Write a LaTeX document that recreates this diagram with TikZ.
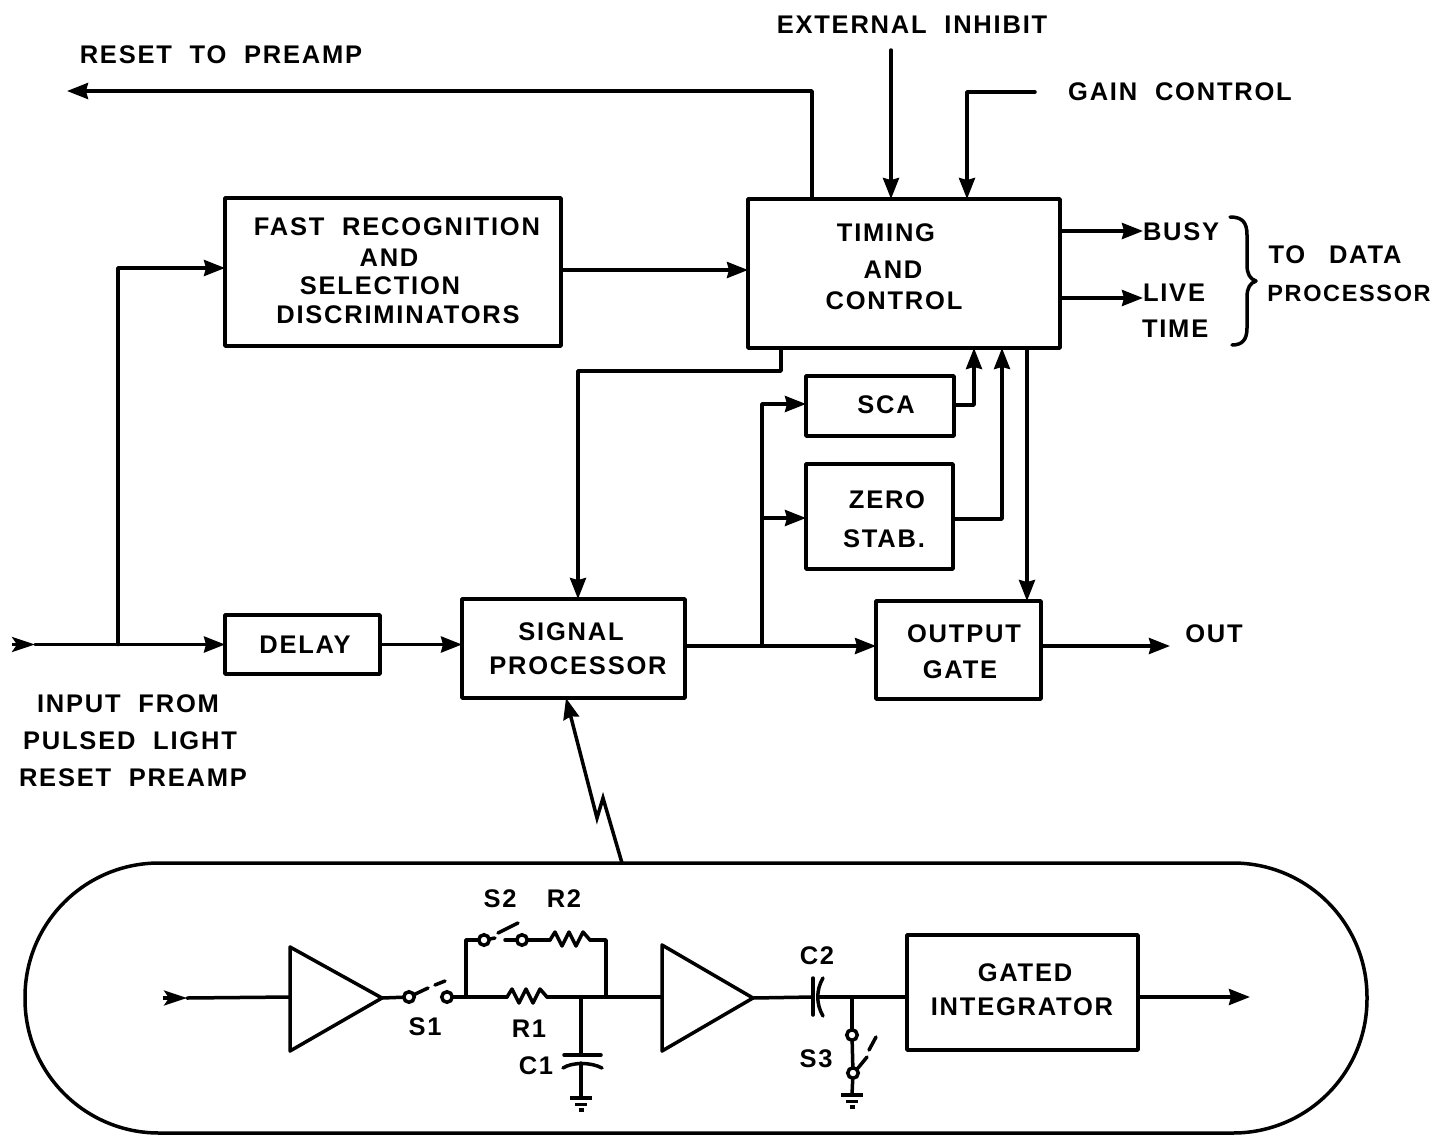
\documentclass[tikz,border=0pt]{standalone}
\usepackage{fontspec}
\setmainfont{Liberation Sans}[LetterSpace=7,WordSpace=2.0]
\usetikzlibrary{arrows.meta,calc}
\tikzset{
  wire/.style={line width=3.5pt,line join=round,line cap=round,draw=black},
  arrow/.style={wire,-{Stealth[length=21pt,width=16pt,inset=2pt]}},
  inarrow/.style={wire,line cap=butt,-{Stealth[length=23pt,width=15pt,inset=5pt]}},
  box/.style={draw=black,line width=3.5pt,line join=round,rectangle,inner sep=0pt,outer sep=0pt},
  lbl/.style={inner sep=0pt,outer sep=0pt,anchor=center,font=\fontsize{25.5}{30}\selectfont\bfseries},
  lbll/.style={lbl,anchor=west},
  term/.style={circle,draw=black,fill=white,line width=3.5pt,minimum size=10.5pt,inner sep=0pt,outer sep=0pt},
  resistor/.pic={\draw[wire] (0,0) -- ++(5,-8) -- ++(7,14) -- ++(7,-14) -- ++(7,14) -- ++(7,-14) -- ++(7,8);},
  groundsym/.pic={\draw[line width=3.5pt] (-11,0) -- (11,0);\draw[line width=3.5pt] (-6,6.5) -- (6,6.5);\draw[line width=3.5pt] (-2.5,12) -- (2.5,12);}
}
\begin{document}
\begin{tikzpicture}[x=1pt,y=-1pt]
\useasboundingbox (0,0) rectangle (1436,1136);
% boxes
\node[box,minimum width=336pt,minimum height=148pt] (fast) at (393,272) {};
\node[box,minimum width=312pt,minimum height=149pt] (timing) at (904,273.5) {};
\node[box,minimum width=148pt,minimum height=60pt] (sca) at (880,406) {};
\node[box,minimum width=147pt,minimum height=105pt] (zero) at (879.5,516.5) {};
\node[box,minimum width=155pt,minimum height=59pt] (delay) at (302.5,644.5) {};
\node[box,minimum width=223pt,minimum height=99pt] (signal) at (573.5,648.5) {};
\node[box,minimum width=165pt,minimum height=98pt] (output) at (958.5,650) {};
\node[box,minimum width=231pt,minimum height=115pt] (gated) at (1022.5,992.5) {};
\node[box,rounded corners=134pt,minimum width=1342pt,minimum height=270pt] (capsule) at (696,998) {};
% labels
\node[lbl] (tReset) at (221,55) {RESET TO PREAMP};
\node[lbl] (tExt) at (912,25) {EXTERNAL INHIBIT};
\node[lbl] (tGain) at (1180,92) {GAIN CONTROL};
\node[lbl] (tFastA) at (397,227) {FAST RECOGNITION};
\node[lbl] (tFastB) at (389,258) {AND};
\node[lbl] (tFastC) at (380,286) {SELECTION};
\node[lbl] (tFastD) at (398,315) {DISCRIMINATORS};
\node[lbl] (tTimA) at (886,233) {TIMING};
\node[lbl] (tTimB) at (893,270) {AND};
\node[lbl] (tTimC) at (894,301) {CONTROL};
\node[lbll] (busy) at (1143,232) {BUSY};
\node[lbll] (live) at (1143,293) {LIVE};
\node[lbll] (time) at (1142,329) {TIME};
\node[lbl] (tDataA) at (1335,255) {TO\hspace{6pt} DATA};
\node[lbl,font=\fontsize{23.5}{30}\selectfont\bfseries] (tDataB) at (1349,293) {PROCESSOR};
\node[lbl] (tSca) at (886,405) {SCA};
\node[lbl] (tZeroA) at (887,500) {ZERO};
\node[lbl] (tZeroB) at (884,539) {STAB.};
\node[lbl] (tDelay) at (305,645) {DELAY};
\node[lbl] (tSigA) at (571,632) {SIGNAL};
\node[lbl] (tSigB) at (578,666) {PROCESSOR};
\node[lbl] (tOutA) at (964,634) {OUTPUT};
\node[lbl] (tOutB) at (960,670) {GATE};
\node[lbl] (tOut) at (1214,634) {OUT};
\node[lbl] (tInA) at (128,704) {INPUT FROM};
\node[lbl] (tInB) at (130,741) {PULSED LIGHT};
\node[lbl] (tInC) at (133,778) {RESET PREAMP};
\node[lbl] (tS2) at (500,899) {S2};
\node[lbl] (tR2) at (564,899) {R2};
\node[lbl] (tS1) at (425,1027) {S1};
\node[lbl] (tR1) at (529,1029) {R1};
\node[lbl] (tC1) at (536,1066) {C1};
\node[lbl] (tC2) at (817,956) {C2};
\node[lbl] (tS3) at (816,1059) {S3};
\node[lbl] (tGatA) at (1025,973) {GATED};
\node[lbl] (tGatB) at (1022,1007) {INTEGRATOR};
% free ends
\coordinate (resetEnd) at (67,91);
\coordinate (extStart) at (891,50);
\coordinate (gainStart) at (1035,92);
\coordinate (inStart) at (12,644.5);
\coordinate (inTip) at (35,644.5);
\coordinate (jIn) at (118,644.5);
\coordinate (jSig) at (762,646);
\coordinate (outEnd) at (1170,646);
% upper connectors
\draw[arrow] (timing.north -| 812,0) |- (resetEnd);
\draw[arrow] (extStart) -- (timing.north -| extStart);
\draw[arrow] (gainStart) -| (timing.north -| 967,0);
\draw[arrow] (fast.east |- 0,270) -- (timing.west |- 0,270);
\draw[inarrow] (inStart) -- (inTip);
\draw[arrow] (inTip) -- (delay.west);
\draw[arrow] (jIn) |- (fast.west |- 0,268);
\draw[arrow] (delay.east) -- (signal.west |- delay.east);
\draw[arrow] (timing.east |- 0,231) -- (busy.west |- 0,231);
\draw[arrow] (timing.east |- 0,298) -- (live.west |- 0,298);
\draw[arrow] (timing.south -| 781,0) |- (578,371) -- (signal.north -| 578,0);
\draw[arrow] (signal.east |- jSig) -- (output.west |- jSig);
\draw[arrow] (jSig) |- (sca.west |- 0,404);
\draw[arrow] (jSig) |- (zero.west |- 0,518);
\draw[arrow] (sca.east |- 0,405) -| (timing.south -| 974,0);
\draw[arrow] (zero.east |- 0,519) -| (timing.south -| 1002,0);
\draw[arrow] (timing.south -| 1027,0) -- (output.north -| 1027,0);
\draw[arrow] (output.east |- jSig) -- (outEnd);
% lightning
\draw[arrow,line join=miter] (capsule.north -| 622,0) -- (603,798) -- (597,818) -- (signal.south -| 566,0);
% brace
\draw[wire] (1230,217) .. controls (1242,217) and (1247,222) .. (1247,235) -- (1247,265)
  .. controls (1247,274) and (1250,279) .. (1256,281) .. controls (1250,283) and (1247,288) .. (1247,297)
  -- (1247,328) .. controls (1247,340) and (1242,345) .. (1232,345);
% circuit: amplifiers
\coordinate (a1in) at (290,997);
\coordinate (a1out) at (382,998);
\coordinate (a2in) at (662,997);
\coordinate (a2out) at (753,998);
\draw[wire] (290,947) -- (a1out) -- (290,1051) -- cycle;
\draw[wire] (662,945) -- (a2out) -- (662,1051) -- cycle;
\coordinate (cStart) at (163,998);
\coordinate (cTip) at (187,998);
\draw[inarrow] (cStart) -- (cTip);
\draw[wire] (cTip) -- (a1in);
% switches, resistors
\node[term] (s1a) at (409,997) {};
\node[term] (s1b) at (447,997) {};
\node[term] (s2a) at (484,940) {};
\node[term] (s2b) at (522,940) {};
\node[term] (s3a) at (852,1035) {};
\node[term] (s3b) at (853,1073) {};
\coordinate (jR) at (466,997);
\coordinate (jL) at (606,997);
\coordinate (jC) at (581,997);
\coordinate (r1a) at (507,997);
\coordinate (r1b) at (547,997);
\coordinate (r2a) at (550,940);
\coordinate (r2b) at (590,940);
\pic at (r1a) {resistor};
\pic at (r2a) {resistor};
\draw[wire] (a1out) -- (s1a);
\draw[wire] (s1b) -- (jR) -- (r1a);
\draw[wire] (r1b) -- (a2in);
\draw[wire] (jR) |- (s2a);
\draw[wire] (s2b) -- (r2a);
\draw[wire] (r2b) -| (jL);
\draw[wire] (s1a) -- (428,988);
\draw[wire] (435,985) -- (445,981);
\draw[wire] (s2a) -- (495,938);
\draw[wire] (498,933) -- (518,923);
\draw[wire] (505,940) -- (s2b);
% C1
\coordinate (c1t) at (581,1055);
\coordinate (c1b) at (581,1063);
\coordinate (g1) at (581,1098);
\draw[wire] (jC) -- (c1t);
\draw[wire] (564,1055) -- (601,1055);
\draw[wire] (563,1068) .. controls (572,1062) and (591,1062) .. (602,1068);
\draw[wire] (c1b) -- (g1);
\pic at (g1) {groundsym};
% C2
\coordinate (c2a) at (813,997);
\coordinate (c2b) at (818,997);
\coordinate (jS) at (852,997);
\draw[wire] (a2out) -- (c2a);
\draw[wire] (813,978) -- (813,1015);
\draw[wire] (823,978) .. controls (816,990) and (816,1004) .. (823,1016);
\draw[wire] (c2b) -- (gated.west |- c2b);
\draw[wire] (jS) -- (s3a);
\draw[wire] (s3a) -- (s3b);
\draw[wire] (s3b) -- (858,1068) -- (867,1057);
\draw[wire] (869,1050) -- (876,1037);
\coordinate (g3) at (852,1095);
\draw[wire] (s3b) -- (g3);
\pic at (g3) {groundsym};
\draw[arrow] (gated.east |- c2b) -- (1250,997);
\end{tikzpicture}
\end{document}
